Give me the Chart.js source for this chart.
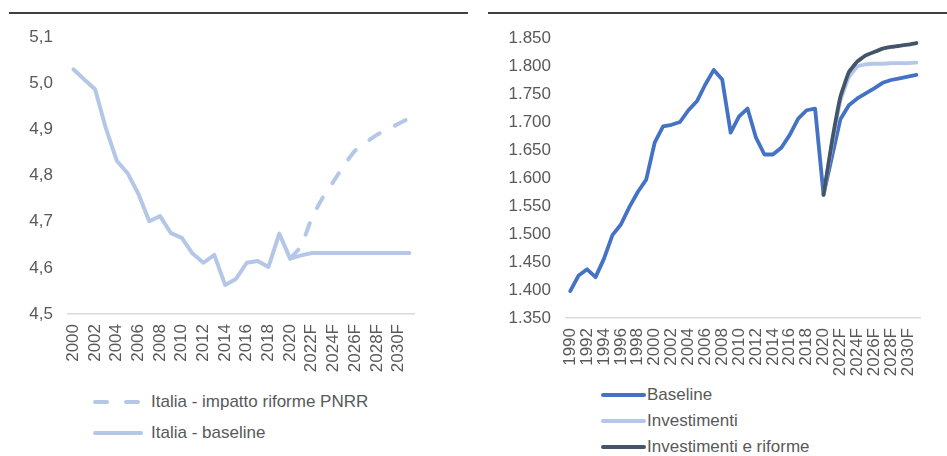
<!DOCTYPE html>
<html>
<head>
<meta charset="utf-8">
<script src="https://cdn.jsdelivr.net/npm/chart.js@4"></script>
<style>
  html, body { margin: 0; padding: 0; background: #fff; }
  body { width: 947px; height: 456px; position: relative; overflow: hidden; font-family: 'Liberation Sans', Arial, sans-serif; }
  .rule { position: absolute; top: 12px; height: 2px; background: #404040; }
  .box { position: absolute; top: 0; }
  .legend { position: absolute; color: #595959; font-size: 17px; }
  .item { position: absolute; display: flex; align-items: center; white-space: nowrap; }
  .item svg { display: block; }
</style>
</head>
<body>
<div class="rule" style="left:9px;width:459px"></div>
<div class="rule" style="left:488px;width:459px"></div>
<div class="box" style="left:0;width:440px;height:380px"><canvas id="left"></canvas></div>
<div class="box" style="left:480px;width:467px;height:380px"><canvas id="right"></canvas></div>
<div class="legend" id="legLeft"></div>
<div class="legend" id="legRight"></div>
<script>
// ---------- Left chart data ----------
const leftCategories = ['2000','2001','2002','2003','2004','2005','2006','2007','2008','2009',
  '2010','2011','2012','2013','2014','2015','2016','2017','2018','2019','2020',
  '2021F','2022F','2023F','2024F','2025F','2026F','2027F','2028F','2029F','2030F','2031F'];
const leftPnrr = [null,null,null,null,null,null,null,null,null,null,
  null,null,null,null,null,null,null,null,null,null,4.620,
  4.647,4.708,4.752,4.787,4.823,4.854,4.872,4.888,4.900,4.912,4.924];
const leftBaseline = [5.030,5.008,4.987,4.902,4.832,4.805,4.760,4.701,4.712,4.675,
  4.665,4.631,4.611,4.628,4.563,4.576,4.611,4.615,4.602,4.674,4.620,
  4.627,4.632,4.632,4.632,4.632,4.632,4.632,4.632,4.632,4.632,4.632];
const leftTicks = [4.5, 4.6, 4.7, 4.8, 4.9, 5.0, 5.1];
const leftLabels = ['Italia - impatto riforme PNRR', 'Italia - baseline'];

// ---------- Right chart data ----------
const rightCategories = ['1990','1991','1992','1993','1994','1995','1996','1997','1998','1999',
  '2000','2001','2002','2003','2004','2005','2006','2007','2008','2009',
  '2010','2011','2012','2013','2014','2015','2016','2017','2018','2019','2020',
  '2021F','2022F','2023F','2024F','2025F','2026F','2027F','2028F','2029F','2030F','2031F'];
const rightBaseline = [1398,1426,1437,1423,1456,1498,1517,1548,1575,1597,
  1663,1692,1695,1700,1721,1737,1767,1793,1776,1681,
  1710,1724,1672,1642,1642,1654,1677,1706,1721,1724,1570,
  1638,1705,1730,1742,1751,1760,1770,1775,1778,1781,1784];
const rightInvestimenti = [null,null,null,null,null,null,null,null,null,null,
  null,null,null,null,null,null,null,null,null,null,
  null,null,null,null,null,null,null,null,null,null,1570,
  1660,1738,1780,1799,1803,1804,1804,1805,1805,1805,1806];
const rightInvRiforme = [null,null,null,null,null,null,null,null,null,null,
  null,null,null,null,null,null,null,null,null,null,
  null,null,null,null,null,null,null,null,null,null,1570,
  1665,1745,1789,1808,1819,1825,1831,1834,1836,1838,1841];
const rightTicks = [1350,1400,1450,1500,1550,1600,1650,1700,1750,1800,1850];
const rightLabels = ['Baseline', 'Investimenti', 'Investimenti e riforme'];

const FONT = "'Liberation Sans', Arial, sans-serif";
const TXT = '#595959';
const LIGHT = '#B4C7E7';

function fixWidth(w) { return (s) => { s.width = w; }; }
function fixHeight(h) { return (s) => { s.height = h; }; }

function xAxis(h) {
  return {
    type: 'category',
    offset: true,
    grid: { display: false, drawTicks: false },
    border: { display: true, color: '#D9D9D9', width: 1.5 },
    ticks: {
      autoSkip: false, minRotation: 90, maxRotation: 90, padding: 10,
      color: TXT, font: { family: FONT, size: 17 },
      callback: function (v, i) { return i % 2 === 0 ? this.getLabelForValue(v) : ''; }
    },
    afterFit: fixHeight(h)
  };
}

new Chart(document.getElementById('left'), {
  type: 'line',
  data: {
    labels: leftCategories,
    datasets: [
      { label: leftLabels[0], data: leftPnrr, borderColor: LIGHT, borderWidth: 4,
        borderDash: [12, 17], borderCapStyle: 'round', tension: 0.2, pointRadius: 0, order: 1 },
      { label: leftLabels[1], data: leftBaseline, borderColor: LIGHT, borderWidth: 4,
        borderCapStyle: 'round', borderJoinStyle: 'round', tension: 0, pointRadius: 0, order: 0 }
    ]
  },
  options: {
    responsive: true, maintainAspectRatio: false, animation: false,
    layout: { padding: { left: 0, top: 37, right: 17, bottom: 0 } },
    plugins: { legend: { display: false }, tooltip: { enabled: false } },
    scales: {
      x: xAxis(66),
      y: {
        min: leftTicks[0], max: leftTicks[leftTicks.length - 1],
        grid: { display: false, drawTicks: false },
        border: { display: false },
        afterBuildTicks: (s) => { s.ticks = leftTicks.map(v => ({ value: v })); },
        ticks: { padding: 15, color: TXT, font: { family: FONT, size: 17 },
          callback: (v) => Number(v).toFixed(1).replace('.', ',') },
        afterFit: fixWidth(68)
      }
    }
  }
});

new Chart(document.getElementById('right'), {
  type: 'line',
  data: {
    labels: rightCategories,
    datasets: [
      { label: rightLabels[0], data: rightBaseline, borderColor: '#4472C4', borderWidth: 3.8,
        borderCapStyle: 'round', borderJoinStyle: 'round', tension: 0, pointRadius: 0, order: 2 },
      { label: rightLabels[1], data: rightInvestimenti, borderColor: LIGHT, borderWidth: 3.8,
        borderCapStyle: 'round', tension: 0.1, pointRadius: 0, order: 1 },
      { label: rightLabels[2], data: rightInvRiforme, borderColor: '#44546A', borderWidth: 3.8,
        borderCapStyle: 'round', tension: 0.1, pointRadius: 0, order: 0 }
    ]
  },
  options: {
    responsive: true, maintainAspectRatio: false, animation: false,
    layout: { padding: { left: 0, top: 38, right: 16, bottom: 0 } },
    plugins: { legend: { display: false }, tooltip: { enabled: false } },
    scales: {
      x: xAxis(62),
      y: {
        min: rightTicks[0], max: rightTicks[rightTicks.length - 1],
        grid: { display: false, drawTicks: false },
        border: { display: false },
        afterBuildTicks: (s) => { s.ticks = rightTicks.map(v => ({ value: v })); },
        ticks: { padding: 15, color: TXT, font: { family: FONT, size: 17 },
          callback: (v) => { const s = String(Math.round(v)); return s.slice(0, s.length - 3) + '.' + s.slice(-3); } },
        afterFit: fixWidth(86)
      }
    }
  }
});

// ---------- HTML legends ----------
function addItem(parent, x, y, text, color, dashed, lineW, gap) {
  const it = document.createElement('div');
  it.className = 'item';
  it.style.left = x + 'px';
  it.style.top = (y - 11) + 'px';
  it.style.height = '22px';
  const svgNS = 'http://www.w3.org/2000/svg';
  const svg = document.createElementNS(svgNS, 'svg');
  svg.setAttribute('width', lineW); svg.setAttribute('height', 8);
  const ln = document.createElementNS(svgNS, 'line');
  ln.setAttribute('x1', 2); ln.setAttribute('x2', lineW - 2);
  ln.setAttribute('y1', 4); ln.setAttribute('y2', 4);
  ln.setAttribute('stroke', color); ln.setAttribute('stroke-width', 4);
  ln.setAttribute('stroke-linecap', 'round');
  if (dashed) ln.setAttribute('stroke-dasharray', '12 19');
  svg.appendChild(ln);
  svg.style.marginRight = gap + 'px';
  it.appendChild(svg);
  const sp = document.createElement('span');
  sp.textContent = text;
  it.appendChild(sp);
  parent.appendChild(it);
}
const lg = document.getElementById('legLeft');
addItem(lg, 93, 402, leftLabels[0], LIGHT, true, 50, 8);
addItem(lg, 93, 433, leftLabels[1], LIGHT, false, 50, 8);
const rg = document.getElementById('legRight');
addItem(rg, 601, 395, rightLabels[0], '#4472C4', false, 45, 1);
addItem(rg, 601, 421, rightLabels[1], LIGHT, false, 45, 1);
addItem(rg, 601, 447, rightLabels[2], '#44546A', false, 45, 1);
</script>
</body>
</html>
